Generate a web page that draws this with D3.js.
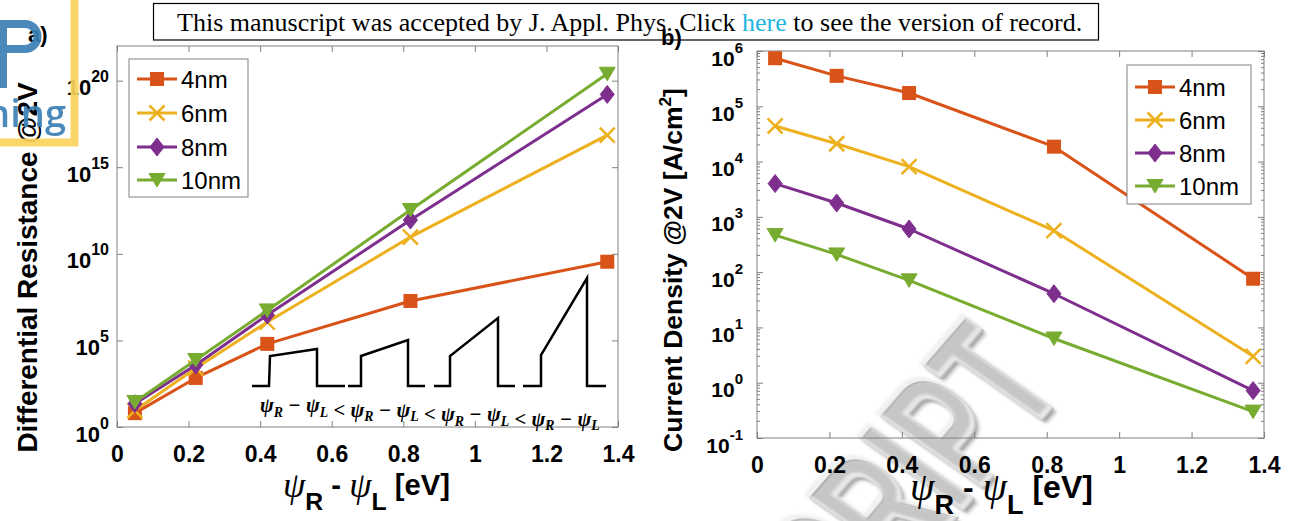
<!DOCTYPE html>
<html>
<head>
<meta charset="utf-8">
<script src="https://cdn.jsdelivr.net/npm/d3@7"></script>
<style>
  html, body { margin: 0; padding: 0; background: #fff; overflow: hidden; }
  svg { display: block; }
</style>
</head>
<body>
<svg id="fig" width="1296" height="521"></svg>
<script>
// ---- data ---------------------------------------------------------------
const seriesNames = ["4nm", "6nm", "8nm", "10nm"];
const barrierDiff = [0.05, 0.22, 0.42, 0.82, 1.37];          // ψR - ψL [eV]

// (a) differential resistance @2V
const resistance4nm  = [6.3, 680, 6.3e4, 1.9e7, 3.5e9];
const resistance6nm  = [8.9, 2.5e3, 1.15e6, 9.3e10, 7.2e16];
const resistance8nm  = [22, 3.8e3, 2.95e6, 8.9e11, 1.6e19];
const resistance10nm = [28, 7.4e3, 5.4e6, 3.4e12, 2.5e20];

// (b) current density @2V [A/cm^2]
const current4nm  = [7.4e5, 3.55e5, 1.74e5, 1.86e4, 76];
const current6nm  = [4.4e4, 2.1e4, 8.1e3, 562, 3.0];
const current8nm  = [4.0e3, 1.78e3, 603, 40.7, 0.72];
const current10nm = [468, 209, 71, 6.3, 0.30];

const xTickValues = [0, 0.2, 0.4, 0.6, 0.8, 1, 1.2, 1.4];
const xTickLabels = ["0", "0.2", "0.4", "0.6", "0.8", "1", "1.2", "1.4"];
const resistanceTickExps = [0, 5, 10, 15, 20];
const currentTickExps = [-1, 0, 1, 2, 3, 4, 5, 6];

// ---- styling -------------------------------------------------------------
const seriesColors = ["#D95319", "#EDB120", "#7E2F8E", "#77AC30"];
const markerShapes = ["square", "cross", "diamond", "triangleDown"];
const SANS = "'Liberation Sans', Arial, Helvetica, sans-serif";
const SERIF = "'Liberation Serif', 'Times New Roman', serif";
const axisColor = "#808080";

const svg = d3.select("#fig");
svg.append("rect").attr("width", 1296).attr("height", 521).attr("fill", "#fff");

const defs = svg.append("defs");
const soft = defs.append("filter").attr("id", "soft")
  .attr("x", "-20%").attr("y", "-20%").attr("width", "140%").attr("height", "140%");
soft.append("feGaussianBlur").attr("stdDeviation", 2.5);
const hi = defs.append("filter").attr("id", "hi")
  .attr("x", "-20%").attr("y", "-20%").attr("width", "140%").attr("height", "140%");
hi.append("feGaussianBlur").attr("stdDeviation", 1.8);

// ---- watermark (behind the charts) ---------------------------------------
const wmText = "ACCEPTED MANUSCRIPT";
const wmTransform = d => `translate(${1069 + d},${389 + d}) rotate(-49) skewX(6) scale(0.6,1)`;
const wm = svg.append("g").attr("font-family", SANS).attr("font-weight", "bold")
  .attr("font-size", 180).attr("text-anchor", "end");
// shaded lower edge
wm.append("text").attr("transform", wmTransform(3)).attr("fill", "#8c8c8c")
  .attr("filter", "url(#soft)").text(wmText);
// body
wm.append("text").attr("transform", wmTransform(0)).attr("fill", "#c6c6c6")
  .attr("stroke", "#a9a9a9").attr("stroke-width", 2.5).text(wmText);
// highlight ridge
wm.append("text").attr("transform", wmTransform(-2)).attr("fill", "none")
  .attr("stroke", "#eeeeee").attr("stroke-width", 6).attr("filter", "url(#hi)")
  .attr("opacity", 0.85).text(wmText);

// ---- helpers ---------------------------------------------------------------
function drawMarker(g, shape, color, cx, cy) {
  if (shape === "square") {
    g.append("rect").attr("x", cx - 7).attr("y", cy - 7).attr("width", 14).attr("height", 14)
      .attr("fill", color);
  } else if (shape === "cross") {
    g.append("path").attr("d", `M${cx - 7.5},${cy - 7.5}L${cx + 7.5},${cy + 7.5}M${cx - 7.5},${cy + 7.5}L${cx + 7.5},${cy - 7.5}`)
      .attr("stroke", color).attr("stroke-width", 2.5).attr("fill", "none");
  } else if (shape === "diamond") {
    g.append("path").attr("d", `M${cx},${cy - 9}L${cx + 7},${cy}L${cx},${cy + 9}L${cx - 7},${cy}Z`)
      .attr("fill", color).attr("stroke", color).attr("stroke-width", 1);
  } else {
    g.append("path").attr("d", `M${cx - 8},${cy - 6.5}L${cx + 8},${cy - 6.5}L${cx},${cy + 7}Z`)
      .attr("fill", color).attr("stroke", color).attr("stroke-width", 1).attr("stroke-linejoin", "round");
  }
}

// builds a text at origin, then scales it so its width matches `width`
function fittedText(parent, build, width) {
  const g = parent.append("g");
  const t = g.append("text").attr("x", 0).attr("y", 0);
  build(t);
  const bb = t.node().getBBox();
  return { g, bb, k: width / bb.width };
}

function buildXTitle(t) {
  t.attr("font-family", SANS).attr("font-weight", "bold").attr("font-size", 26).attr("fill", "#000");
  const psi = s => s.attr("font-family", SERIF).attr("font-style", "italic")
    .attr("font-weight", "normal").attr("font-size", 32);
  t.append("tspan").call(psi).attr("dy", 2).text("ψ");
  t.append("tspan").attr("font-size", 22).attr("dy", 11).text("R");
  t.append("tspan").attr("dy", -13).text(" - ");
  t.append("tspan").call(psi).attr("dy", 2).text("ψ");
  t.append("tspan").attr("font-size", 22).attr("dy", 11).text("L");
  t.append("tspan").attr("dy", -13).text(" [eV]");
}

// ---- panels ------------------------------------------------------------------
const panels = [
  {
    x0: 117, x1: 618, y0: 46, y1: 427, yDomain: [1, 1e22],
    tickExps: resistanceTickExps, minor: false, yPad: 8, baseFs: 22, expFs: 16,
    series: [resistance4nm, resistance6nm, resistance8nm, resistance10nm],
    legend: { x: 129, y: 59, w: 119, h: 138, rows: [79, 113, 147, 180], lx: 137 },
    yTitle: "Differential Resistance @2V", yTitleX: 37, yTitleCy: 267.5, yTitleLen: 371,
    xTitleX: 283, xTitleY: 495, xTitleLen: 167
  },
  {
    x0: 757, x1: 1264, y0: 51, y1: 438, yDomain: [0.1, 1e6],
    tickExps: currentTickExps, minor: true, yPad: 14, baseFs: 21, expFs: 15,
    series: [current4nm, current6nm, current8nm, current10nm],
    legend: { x: 1127, y: 65, w: 124, h: 139, rows: [87, 120, 153, 186], lx: 1135 },
    yTitle: null, yTitleX: 682, yTitleCy: 270, yTitleLen: 364,
    xTitleX: 910, xTitleY: 498, xTitleLen: 183
  }
];

panels.forEach((p, pi) => {
  const x = d3.scaleLinear().domain([0, 1.4]).range([p.x0, p.x1]);
  const y = d3.scaleLog().domain(p.yDomain).range([p.y1, p.y0]);
  const g = svg.append("g");

  g.append("rect").attr("x", p.x0).attr("y", p.y0)
    .attr("width", p.x1 - p.x0).attr("height", p.y1 - p.y0)
    .attr("fill", "none").attr("stroke", axisColor).attr("stroke-width", 1);

  // x axis (bottom, labelled) and mirrored top ticks
  const xb = g.append("g").attr("transform", `translate(0,${p.y1})`)
    .call(d3.axisBottom(x).tickValues(xTickValues).tickSizeInner(-6).tickSizeOuter(0)
      .tickFormat((d, i) => xTickLabels[i]));
  const xt = g.append("g").attr("transform", `translate(0,${p.y0})`)
    .call(d3.axisTop(x).tickValues(xTickValues).tickSizeInner(-6).tickSizeOuter(0).tickFormat(""));
  xb.selectAll(".tick text").attr("y", 35).attr("dy", null)
    .attr("font-family", SANS).attr("font-weight", "bold").attr("font-size", 23).attr("fill", "#000");

  // y axis (left, labelled) and mirrored right ticks
  const tickVals = p.tickExps.map(e => Math.pow(10, e));
  const yl = g.append("g").attr("transform", `translate(${p.x0},0)`)
    .call(d3.axisLeft(y).tickValues(tickVals).tickSizeInner(-6).tickSizeOuter(0).tickFormat(""));
  const yr = g.append("g").attr("transform", `translate(${p.x1},0)`)
    .call(d3.axisRight(y).tickValues(tickVals).tickSizeInner(-6).tickSizeOuter(0).tickFormat(""));
  yl.selectAll(".tick text").remove();
  yl.selectAll(".tick").each(function (d, i) {
    const t = d3.select(this).append("text").attr("x", -p.yPad).attr("y", 14)
      .attr("text-anchor", "end").attr("font-family", SANS).attr("font-weight", "bold").attr("fill", "#000");
    t.append("tspan").attr("font-size", p.baseFs).text("10");
    t.append("tspan").attr("font-size", p.expFs).attr("dy", -13).text(p.tickExps[i]);
  });

  [xb, xt, yl, yr].forEach(a => {
    a.select(".domain").remove();
    a.selectAll(".tick line").attr("stroke", axisColor);
  });

  if (p.minor) {
    const minorVals = [];
    for (let e = p.tickExps[0]; e < p.tickExps[p.tickExps.length - 1]; e++)
      for (let m = 2; m <= 9; m++) minorVals.push(m * Math.pow(10, e));
    g.append("g").selectAll("path").data(minorVals).join("path")
      .attr("d", d => `M${p.x0},${y(d)}h3M${p.x1},${y(d)}h-3`)
      .attr("stroke", axisColor).attr("stroke-width", 1);
  }

  // series lines and markers
  const line = d3.line().x((d, j) => x(barrierDiff[j])).y(d => y(d));
  p.series.forEach((vals, si) => {
    const sg = g.append("g");
    sg.append("path").attr("d", line(vals)).attr("fill", "none")
      .attr("stroke", seriesColors[si]).attr("stroke-width", 3).attr("stroke-linejoin", "round");
    vals.forEach((v, j) => drawMarker(sg, markerShapes[si], seriesColors[si], x(barrierDiff[j]), y(v)));
  });

  // legend
  const L = p.legend;
  const lg = g.append("g");
  lg.append("rect").attr("x", L.x).attr("y", L.y).attr("width", L.w).attr("height", L.h)
    .attr("fill", "#fff").attr("stroke", axisColor).attr("stroke-width", 1);
  seriesNames.forEach((name, si) => {
    const ry = L.rows[si];
    lg.append("line").attr("x1", L.lx).attr("x2", L.lx + 40).attr("y1", ry).attr("y2", ry)
      .attr("stroke", seriesColors[si]).attr("stroke-width", 3);
    drawMarker(lg, markerShapes[si], seriesColors[si], L.lx + 20, ry);
    lg.append("text").attr("x", L.lx + 44).attr("y", ry + 8.5)
      .attr("font-family", SANS).attr("font-size", 24).attr("fill", "#000").text(name);
  });

  // x title
  const xtTitle = fittedText(svg, buildXTitle, p.xTitleLen);
  xtTitle.g.attr("transform", `translate(${p.xTitleX - xtTitle.bb.x * xtTitle.k},${p.xTitleY}) scale(${xtTitle.k})`);

  // y title
  const yt = fittedText(svg, t => {
    t.attr("text-anchor", "middle").attr("font-family", SANS).attr("font-weight", "bold")
      .attr("font-size", 26).attr("fill", "#000");
    if (p.yTitle) {
      t.text(p.yTitle);
    } else {
      t.append("tspan").text("Current Density @2V [A/cm");
      t.append("tspan").attr("font-size", 17).attr("dy", -11).text("2");
      t.append("tspan").attr("dy", 11).text("]");
    }
  }, p.yTitleLen);
  yt.g.attr("transform", `translate(${p.yTitleX},${p.yTitleCy}) rotate(-90) scale(${yt.k})`);
});

// ---- barrier sketches inside panel (a) -------------------------------------
const barrierStarts = [252, 348, 434, 523];
const barrierProfiles = [
  [[0, 0], [17, 0], [18, -30], [65, -37], [65, 0], [93, 0]],
  [[0, 0], [13, 0], [13, -30], [60, -46], [60, 0], [77, 0]],
  [[0, 0], [16, 0], [16, -30], [64, -68], [64, 0], [81, 0]],
  [[0, 0], [18, 0], [18, -31], [64, -108], [64, 0], [83, 0]]
];
const inset = svg.append("g");
barrierProfiles.forEach((prof, i) => {
  inset.append("path")
    .attr("transform", `translate(${barrierStarts[i]},386)`)
    .attr("d", d3.line()(prof))
    .attr("fill", "none").attr("stroke", "#000").attr("stroke-width", 2.5).attr("stroke-linejoin", "miter");
});
const ineq = fittedText(inset, t => {
  t.attr("font-family", SERIF).attr("font-style", "italic").attr("font-weight", "bold")
    .attr("font-size", 18).attr("fill", "#000");
  for (let i = 0; i < 4; i++) {
    t.append("tspan").text((i > 0 ? " < " : "") + "ψ");
    t.append("tspan").attr("font-size", 12).attr("dy", 4).text("R");
    t.append("tspan").attr("dy", -4).text(" − ψ");
    t.append("tspan").attr("font-size", 12).attr("dy", 4).text("L");
    t.append("tspan").attr("dy", -4).text("");
  }
}, 340);
ineq.g.attr("transform", `translate(${260 - ineq.bb.x * ineq.k},412) scale(${ineq.k})`);

// ---- panel letters -------------------------------------------------------------
svg.append("text").attr("x", 28).attr("y", 42).attr("font-family", SANS).attr("font-weight", "bold")
  .attr("font-size", 22).attr("fill", "#000").text("a)");

// ---- header banner ---------------------------------------------------------------
svg.append("rect").attr("x", 153.5).attr("y", 3.5).attr("width", 945).attr("height", 36.5)
  .attr("fill", "#fff").attr("stroke", "#000").attr("stroke-width", 1.2);
const head = fittedText(svg, t => {
  t.attr("font-family", SERIF).attr("font-size", 24).attr("fill", "#000");
  t.append("tspan").text("This manuscript was accepted by J. Appl. Phys. Click ");
  t.append("tspan").attr("fill", "#22b6df").text("here");
  t.append("tspan").text(" to see the version of record.");
}, 906);
head.g.attr("transform", `translate(${177 - head.bb.x * head.k},31) scale(${head.k})`);

svg.append("text").attr("x", 661).attr("y", 45).attr("font-family", SANS).attr("font-weight", "bold")
  .attr("font-size", 22).attr("fill", "#000").text("b)");

// ---- publisher logo corner -------------------------------------------------------
const logo = svg.append("g").attr("opacity", 0.92);
logo.append("path")
  .attr("d", "M3,88V24H25A12.5,12.5 0 0 1 37.5,36.5A12.5,12.5 0 0 1 25,49H3")
  .attr("fill", "none").attr("stroke", "#3b80b5").attr("stroke-width", 8);
logo.append("text").attr("x", 66).attr("y", 127).attr("text-anchor", "end")
  .attr("font-family", "'Open Sans', sans-serif").attr("font-weight", 600).attr("font-size", 38)
  .attr("fill", "#3b80b5").text("Publishing");
logo.append("path").attr("d", "M74.5,-5V142.5H-5")
  .attr("fill", "none").attr("stroke", "#fbd35c").attr("stroke-width", 8);
</script>
</body>
</html>
